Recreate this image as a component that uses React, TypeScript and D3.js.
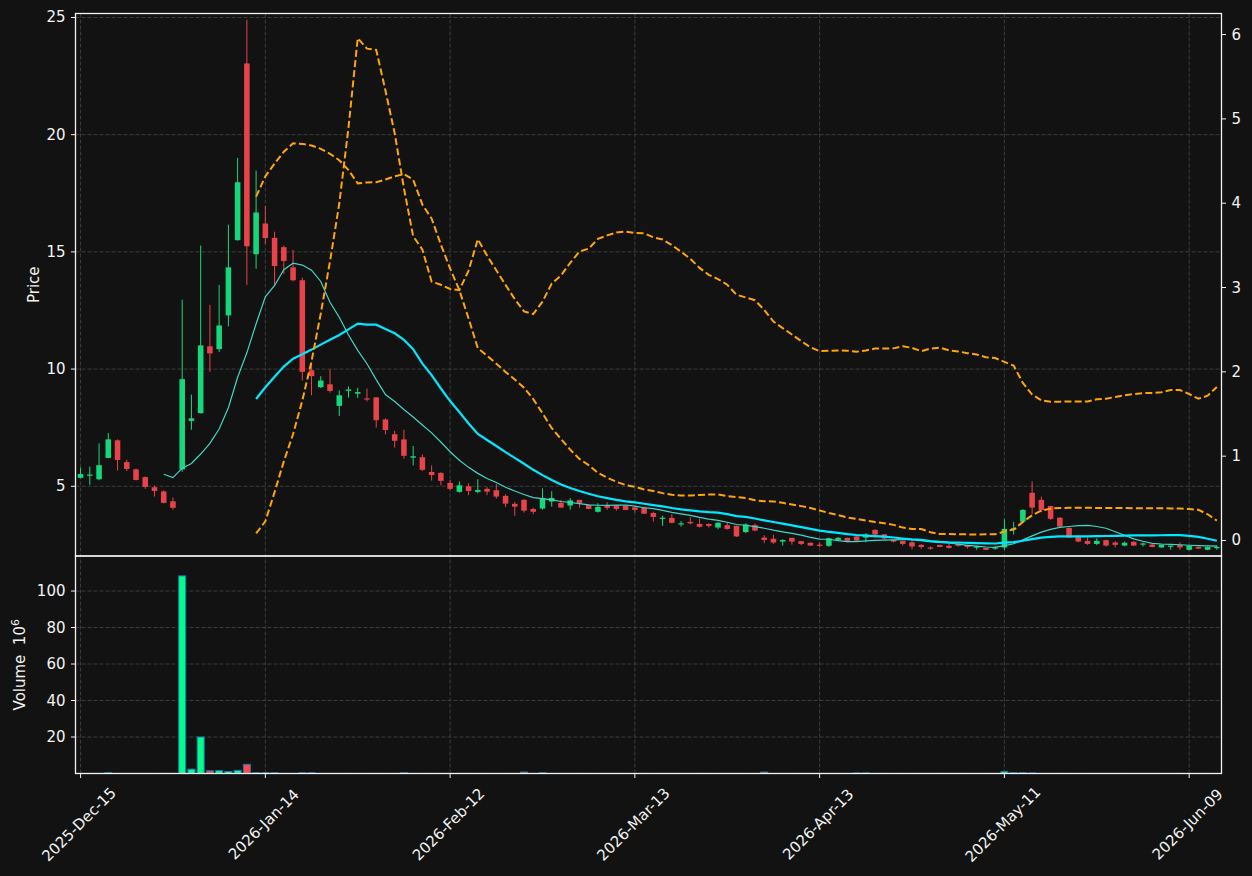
import React, { useEffect, useRef } from 'react';
import * as d3 from 'd3';

// ---- Data (prices; volume in millions) ----
const opens = [
  5.36, 5.45, 5.30, 6.21, 6.96, 6.03, 5.72, 5.39, 4.96, 4.78,
  4.36, 5.72, 7.79, 8.12, 10.97, 10.85, 12.29, 15.50, 23.04, 14.90,
  16.21, 15.60, 15.20, 14.34, 13.79, 9.95, 9.23, 9.35, 8.43, 9.07,
  8.95, 8.75, 8.79, 7.85, 7.22, 7.00, 6.22, 6.24, 5.61, 5.57,
  5.14, 4.76, 5.00, 4.76, 4.89, 4.83, 4.59, 4.25, 4.42, 4.03,
  4.05, 4.35, 4.29, 4.18, 4.42, 4.20, 3.91, 4.18, 4.18, 4.16,
  4.10, 4.11, 3.86, 3.62, 3.65, 3.38, 3.48, 3.39, 3.39, 3.24,
  3.34, 3.31, 3.05, 3.34, 2.81, 2.76, 2.64, 2.80, 2.66, 2.59,
  2.51, 2.46, 2.71, 2.80, 2.86, 2.81, 3.14, 2.95, 2.71, 2.67,
  2.61, 2.50, 2.39, 2.50, 2.46, 2.54, 2.49, 2.39, 2.37, 2.34,
  2.39, 3.15, 3.49, 4.72, 4.42, 4.16, 3.66, 3.22, 2.87, 2.67,
  2.54, 2.70, 2.60, 2.47, 2.63, 2.51, 2.51, 2.39, 2.43, 2.50,
  2.29, 2.41, 2.29, 2.37,
];
const highs = [
  5.80, 5.84, 6.83, 7.27, 7.00, 6.13, 5.76, 5.42, 5.03, 4.83,
  4.52, 12.96, 8.91, 15.27, 12.74, 13.59, 16.16, 19.01, 24.90, 18.47,
  16.96, 15.86, 15.27, 15.09, 13.90, 10.29, 9.70, 9.98, 9.09, 9.26,
  9.20, 9.17, 8.80, 7.90, 7.36, 7.41, 6.72, 6.36, 5.89, 5.60,
  5.27, 5.21, 5.13, 5.30, 4.96, 5.10, 4.66, 4.33, 4.45, 4.08,
  4.91, 4.79, 4.42, 4.50, 4.42, 4.23, 4.28, 4.32, 4.18, 4.19,
  4.10, 4.13, 3.91, 3.74, 3.81, 3.52, 3.68, 3.62, 3.42, 3.48,
  3.47, 3.32, 3.42, 3.41, 2.91, 2.93, 2.74, 2.80, 2.67, 2.59,
  2.59, 2.81, 2.84, 2.81, 2.90, 3.00, 3.17, 2.95, 2.71, 2.67,
  2.68, 2.53, 2.43, 2.50, 2.54, 2.60, 2.51, 2.46, 2.37, 2.43,
  3.59, 3.48, 4.03, 5.21, 4.56, 4.16, 3.68, 3.25, 2.91, 2.81,
  2.78, 2.73, 2.66, 2.64, 2.66, 2.60, 2.54, 2.51, 2.47, 2.61,
  2.48, 2.43, 2.43, 2.47,
];
const lows = [
  5.34, 5.06, 5.26, 6.20, 5.67, 5.65, 5.25, 4.89, 4.56, 4.27,
  4.00, 5.62, 7.41, 8.10, 9.88, 10.73, 11.82, 15.48, 13.59, 14.28,
  15.34, 13.55, 14.06, 13.74, 9.51, 8.88, 9.19, 9.00, 8.00, 8.78,
  8.77, 8.62, 7.50, 7.21, 6.65, 6.18, 5.89, 5.65, 5.24, 5.04,
  4.84, 4.73, 4.62, 4.70, 4.62, 4.47, 4.12, 3.74, 3.88, 3.81,
  4.00, 4.13, 4.08, 4.00, 4.09, 4.02, 3.88, 3.99, 3.96, 3.98,
  3.89, 3.82, 3.49, 3.31, 3.42, 3.28, 3.37, 3.24, 3.24, 3.17,
  3.15, 2.84, 3.00, 3.08, 2.57, 2.54, 2.47, 2.51, 2.49, 2.46,
  2.41, 2.41, 2.68, 2.60, 2.66, 2.61, 2.78, 2.71, 2.60, 2.47,
  2.31, 2.33, 2.29, 2.41, 2.34, 2.43, 2.34, 2.29, 2.27, 2.29,
  2.29, 2.94, 3.48, 3.82, 3.89, 3.57, 3.24, 2.81, 2.61, 2.50,
  2.49, 2.43, 2.39, 2.44, 2.46, 2.43, 2.39, 2.37, 2.29, 2.29,
  2.26, 2.32, 2.27, 2.29,
];
const closes = [
  5.52, 5.50, 5.90, 7.00, 6.12, 5.74, 5.27, 4.97, 4.80, 4.29,
  4.08, 9.57, 7.90, 11.01, 10.67, 11.86, 14.34, 17.97, 15.24, 16.68,
  15.59, 14.40, 14.61, 13.79, 9.88, 9.70, 9.51, 9.07, 8.88, 9.13,
  9.02, 8.70, 7.82, 7.40, 6.94, 6.30, 6.28, 5.70, 5.48, 5.23,
  4.89, 5.04, 4.80, 4.84, 4.77, 4.56, 4.26, 4.13, 3.96, 3.91,
  4.49, 4.50, 4.09, 4.40, 4.28, 4.03, 4.12, 4.08, 4.03, 3.99,
  3.99, 3.83, 3.69, 3.66, 3.44, 3.42, 3.42, 3.27, 3.31, 3.44,
  3.18, 2.86, 3.37, 3.11, 2.71, 2.60, 2.71, 2.64, 2.54, 2.47,
  2.47, 2.78, 2.80, 2.66, 2.68, 2.94, 2.94, 2.77, 2.64, 2.54,
  2.43, 2.41, 2.34, 2.41, 2.37, 2.46, 2.41, 2.43, 2.29, 2.39,
  3.18, 3.21, 3.99, 4.09, 3.99, 3.61, 3.28, 2.81, 2.64, 2.54,
  2.67, 2.47, 2.50, 2.59, 2.47, 2.56, 2.41, 2.51, 2.47, 2.39,
  2.46, 2.34, 2.41, 2.41,
];
const volumes = [
  0.05, 0.05, 0.05, 0.4, 0.05, 0.05, 0.05, 0.05, 0.05, 0.05,
  0.05, 108.3, 2.4, 20.0, 1.5, 1.6, 1.1, 1.7, 5.0, 0.4,
  0.4, 0.4, 0.05, 0.05, 0.4, 0.4, 0.05, 0.05, 0.05, 0.05,
  0.05, 0.05, 0.05, 0.05, 0.05, 0.4, 0.05, 0.05, 0.05, 0.05,
  0.05, 0.05, 0.05, 0.05, 0.05, 0.05, 0.05, 0.05, 0.8, 0.05,
  0.4, 0.05, 0.05, 0.05, 0.05, 0.05, 0.05, 0.05, 0.05, 0.05,
  0.05, 0.05, 0.05, 0.05, 0.05, 0.05, 0.05, 0.05, 0.05, 0.05,
  0.05, 0.05, 0.05, 0.05, 0.8, 0.05, 0.05, 0.05, 0.05, 0.05,
  0.05, 0.05, 0.05, 0.05, 0.3, 0.3, 0.05, 0.05, 0.05, 0.05,
  0.05, 0.05, 0.05, 0.05, 0.05, 0.05, 0.05, 0.05, 0.05, 0.05,
  1.0, 0.4, 0.4, 0.3, 0.05, 0.05, 0.05, 0.05, 0.05, 0.05,
  0.05, 0.05, 0.05, 0.05, 0.05, 0.05, 0.05, 0.05, 0.05, 0.05,
  0.05, 0.05, 0.05, 0.05,
];
const xTickIndex = [0, 20, 40, 60, 80, 100, 120];
const xTickLabels = ['2025-Dec-15', '2026-Jan-14', '2026-Feb-12', '2026-Mar-13', '2026-Apr-13', '2026-May-11', '2026-Jun-09'];
const priceTicks = [5, 10, 15, 20, 25];
const rightTicks = [0, 1, 2, 3, 4, 5, 6];
const volumeTicks = [20, 40, 60, 80, 100];
const maShortPeriod = 10;
const maLongPeriod = 20;
const bandWidthK = 2;

function sma(arr: number[], n: number): (number | null)[] {
  return arr.map((_, i) => (i < n - 1 ? null : (d3.mean(arr.slice(i - n + 1, i + 1)) as number)));
}
function popStd(arr: number[], n: number): (number | null)[] {
  return arr.map((_, i) => {
    if (i < n - 1) return null;
    const w = arr.slice(i - n + 1, i + 1);
    const m = d3.mean(w) as number;
    return Math.sqrt(d3.sum(w, (v) => (v - m) * (v - m)) / n);
  });
}

const W = 1252;
const H = 876;
const L = 75.5;
const R = 1221.5;
const T = 13.5;
const MID = 556;
const B = 773.5;
const BG = '#121212';
const GRID = '#3d3d3d';
const FG = '#f2f2f2';
const UP = '#14d97c';
const DOWN = '#e8434b';
const VUP = '#00ff88';
const VDOWN = '#ff4a4a';
const FONT = 'DejaVu Sans, sans-serif';

export default function App() {
  const ref = useRef<SVGSVGElement>(null);

  useEffect(() => {
    const svg = d3.select(ref.current);
    svg.selectAll('*').remove();

    const n = closes.length;
    const x = d3.scaleLinear().domain([-0.55, 123.5]).range([L, R]);
    const yP = d3.scaleLinear().domain([2.025, 25.17]).range([MID, T]);
    const yR = d3.scaleLinear().domain([-0.184, 6.25]).range([MID, T]);
    const yV = d3.scaleLinear().domain([0, 119.2]).range([B, MID]);
    const step = x(1) - x(0);

    svg.append('rect').attr('x', 0).attr('y', 0).attr('width', W).attr('height', H).attr('fill', BG);

    const defs = svg.append('defs');
    defs.append('clipPath').attr('id', 'clipMain').append('rect')
      .attr('x', L).attr('y', T).attr('width', R - L).attr('height', MID - T);
    defs.append('clipPath').attr('id', 'clipVol').append('rect')
      .attr('x', L).attr('y', MID).attr('width', R - L).attr('height', B - MID);

    // grids
    const grid = svg.append('g').attr('stroke', GRID).attr('stroke-width', 1).attr('stroke-dasharray', '4,2').attr('fill', 'none');
    xTickIndex.forEach((i) => {
      grid.append('line').attr('x1', x(i)).attr('x2', x(i)).attr('y1', T).attr('y2', B);
    });
    priceTicks.forEach((p) => {
      grid.append('line').attr('x1', L).attr('x2', R).attr('y1', yP(p)).attr('y2', yP(p));
    });
    volumeTicks.forEach((v) => {
      grid.append('line').attr('x1', L).attr('x2', R).attr('y1', yV(v)).attr('y2', yV(v));
    });

    // candles
    const cg = svg.append('g').attr('clip-path', 'url(#clipMain)');
    const idx = d3.range(n);
    const col = (i: number) => (closes[i] >= opens[i] ? UP : DOWN);
    cg.selectAll('line.wick').data(idx).enter().append('line')
      .attr('x1', (i) => x(i)).attr('x2', (i) => x(i))
      .attr('y1', (i) => yP(highs[i])).attr('y2', (i) => yP(lows[i]))
      .attr('stroke', col).attr('stroke-width', 1);
    const bw = step * 0.6;
    cg.selectAll('rect.body').data(idx).enter().append('rect')
      .attr('x', (i) => x(i) - bw / 2)
      .attr('width', bw)
      .attr('y', (i) => yP(Math.max(opens[i], closes[i])))
      .attr('height', (i) => Math.max(1.2, Math.abs(yP(opens[i]) - yP(closes[i]))))
      .attr('fill', col);

    // moving averages and bands
    const maS = sma(closes, maShortPeriod);
    const maL = sma(closes, maLongPeriod);
    const sd = popStd(closes, maLongPeriod);
    const upper = maL.map((m, i) => (m == null ? null : m + bandWidthK * (sd[i] as number)));
    const lower = maL.map((m, i) => (m == null ? null : m - bandWidthK * (sd[i] as number)));

    const lineP = d3.line<number | null>().defined((d) => d != null).x((_, i) => x(i)).y((d) => yP(d as number));
    const lineR = d3.line<number | null>().defined((d) => d != null).x((_, i) => x(i)).y((d) => yR(d as number));

    cg.append('path').attr('d', lineP(maS) as string).attr('fill', 'none').attr('stroke', '#3fd6c8').attr('stroke-width', 1.2);
    cg.append('path').attr('d', lineP(maL) as string).attr('fill', 'none').attr('stroke', '#00e8ff').attr('stroke-width', 2.2);
    cg.append('path').attr('d', lineP(upper) as string).attr('fill', 'none').attr('stroke', '#ffa500').attr('stroke-width', 2).attr('stroke-dasharray', '7,3.2');
    cg.append('path').attr('d', lineR(lower) as string).attr('fill', 'none').attr('stroke', '#ffa500').attr('stroke-width', 2).attr('stroke-dasharray', '7,3.2');

    // volume
    const vg = svg.append('g').attr('clip-path', 'url(#clipVol)');
    const vw = step * 0.76;
    vg.selectAll('rect.vol').data(idx).enter().append('rect')
      .attr('x', (i) => x(i) - vw / 2)
      .attr('width', vw)
      .attr('y', (i) => yV(volumes[i]))
      .attr('height', (i) => yV(0) - yV(volumes[i]))
      .attr('fill', (i) => (closes[i] >= opens[i] ? VUP : VDOWN))
      .attr('stroke', '#1f77b4').attr('stroke-width', 1);

    // spines
    const sp = svg.append('g').attr('fill', 'none').attr('stroke', FG).attr('stroke-width', 1.3);
    sp.append('rect').attr('x', L).attr('y', T).attr('width', R - L).attr('height', MID - T);
    sp.append('rect').attr('x', L).attr('y', MID).attr('width', R - L).attr('height', B - MID);

    // ticks and labels
    const tk = svg.append('g').attr('font-family', FONT).attr('font-size', 15).attr('fill', FG);
    priceTicks.forEach((p) => {
      tk.append('line').attr('x1', L - 4.5).attr('x2', L).attr('y1', yP(p)).attr('y2', yP(p)).attr('stroke', FG).attr('stroke-width', 1);
      tk.append('text').attr('x', L - 10).attr('y', yP(p)).attr('text-anchor', 'end').attr('dominant-baseline', 'central').text(String(p));
    });
    rightTicks.forEach((p) => {
      tk.append('line').attr('x1', R).attr('x2', R + 4.5).attr('y1', yR(p)).attr('y2', yR(p)).attr('stroke', FG).attr('stroke-width', 1);
      tk.append('text').attr('x', R + 10).attr('y', yR(p)).attr('text-anchor', 'start').attr('dominant-baseline', 'central').text(String(p));
    });
    volumeTicks.forEach((v) => {
      tk.append('line').attr('x1', L - 4.5).attr('x2', L).attr('y1', yV(v)).attr('y2', yV(v)).attr('stroke', FG).attr('stroke-width', 1);
      tk.append('text').attr('x', L - 10).attr('y', yV(v)).attr('text-anchor', 'end').attr('dominant-baseline', 'central').text(String(v));
    });
    xTickIndex.forEach((i, k) => {
      tk.append('line').attr('x1', x(i)).attr('x2', x(i)).attr('y1', B).attr('y2', B + 4.5).attr('stroke', FG).attr('stroke-width', 1);
      const cx = x(i) - 1.5;
      const cy = 824.5;
      tk.append('text').attr('transform', `translate(${cx},${cy}) rotate(-45)`)
        .attr('text-anchor', 'middle').attr('dominant-baseline', 'central').text(xTickLabels[k]);
    });

    // axis labels
    tk.append('text').attr('transform', `translate(38.5,${(T + MID) / 2}) rotate(-90)`)
      .attr('text-anchor', 'middle').text('Price');
    const vl = tk.append('text').attr('transform', `translate(25,${(MID + B) / 2}) rotate(-90)`)
      .attr('text-anchor', 'middle').attr('xml:space', 'preserve').style('white-space', 'pre');
    vl.append('tspan').text('Volume  10');
    vl.append('tspan').attr('dy', -6).attr('font-size', 11).text('6');
  }, []);

  return (
    <svg
      ref={ref}
      width={W}
      height={H}
      style={{ position: 'absolute', left: 0, top: 0, display: 'block', background: BG }}
    />
  );
}
